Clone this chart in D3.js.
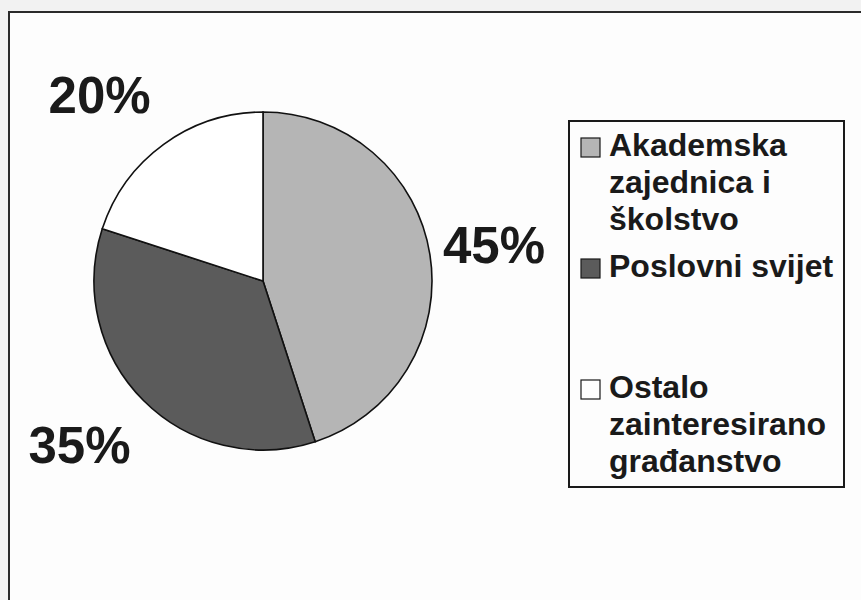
<!DOCTYPE html>
<html>
<head>
<meta charset="utf-8">
<script src="https://cdn.jsdelivr.net/npm/d3@7"></script>
<style>
  html, body { margin: 0; padding: 0; background: #f2f2f2; }
  text { font-family: "Liberation Sans", Arial, sans-serif; font-weight: bold; fill: #1a1a1a; }
</style>
</head>
<body>
<main></main>
<script>
// data
const categories = ['Akademska zajednica i školstvo', 'Poslovni svijet', 'Ostalo zainteresirano građanstvo'];
const legendLines = [['Akademska', 'zajednica i', 'školstvo'], ['Poslovni svijet'], ['Ostalo', 'zainteresirano', 'građanstvo']];
const shares = [45, 35, 20];
const labels = ['45%', '35%', '20%'];
const colors = ['#b5b5b5', '#5b5b5b', '#ffffff'];

const width = 861;
const height = 600;
const cx = 263, cy = 281, radius = 169;

const svg = d3.select('main')
  .append('svg')
  .attr('width', width)
  .attr('height', height);

// chart frame (scanned page, runs off right/bottom)
svg.append('rect')
  .attr('x', 9).attr('y', 12)
  .attr('width', width + 20).attr('height', height + 20)
  .attr('fill', '#fdfdfd')
  .attr('stroke', '#2a2a2a')
  .attr('stroke-width', 2);

// pie
const pie = d3.pie().sort(null).value(d => d);
const arcs = pie(shares);
const arc = d3.arc().innerRadius(0).outerRadius(radius);

const g = svg.append('g').attr('transform', `translate(${cx},${cy})`);

g.selectAll('path')
  .data(arcs)
  .enter()
  .append('path')
  .attr('d', arc)
  .attr('fill', (d, i) => colors[i])
  .attr('stroke', '#111')
  .attr('stroke-width', 1.6);

// percentage labels outside the slices
const labelSel = g.selectAll('text.pct')
  .data(arcs)
  .enter()
  .append('text')
  .attr('class', 'pct')
  .attr('font-size', 51)
  .attr('text-anchor', 'middle')
  .text((d, i) => labels[i]);

labelSel.each(function (d) {
  const mid = (d.startAngle + d.endAngle) / 2;
  const ux = Math.sin(mid), uy = -Math.cos(mid);
  const box = this.getBBox();
  const halfW = box.width / 2 + 13;
  const x = radius * ux + Math.sign(ux) * halfW;
  const y = radius * 1.365 * uy;
  d3.select(this).attr('x', x).attr('y', y + 18.5);
});

// legend
const legendX = 569, legendY = 121, legendW = 275, legendH = 366;
const legend = svg.append('g');

legend.append('rect')
  .attr('x', legendX).attr('y', legendY)
  .attr('width', legendW).attr('height', legendH)
  .attr('fill', 'none')
  .attr('stroke', '#1a1a1a')
  .attr('stroke-width', 2);

const slot = d3.scaleBand()
  .domain(categories)
  .range([legendY + 1.5, legendY + legendH - 1.5]);

const entries = legend.selectAll('g.entry')
  .data(categories)
  .enter()
  .append('g')
  .attr('class', 'entry')
  .attr('transform', d => `translate(0,${slot(d) + 33.5})`);

entries.append('rect')
  .attr('x', legendX + 12)
  .attr('y', -18)
  .attr('width', 19)
  .attr('height', 19)
  .attr('fill', (d, i) => colors[i])
  .attr('stroke', '#1a1a1a')
  .attr('stroke-width', 1.2);

entries.append('text')
  .attr('font-size', 32)
  .selectAll('tspan')
  .data((d, i) => legendLines[i])
  .enter()
  .append('tspan')
  .attr('x', legendX + 40)
  .attr('y', (d, j) => j * 37)
  .text(d => d);
</script>
</body>
</html>
